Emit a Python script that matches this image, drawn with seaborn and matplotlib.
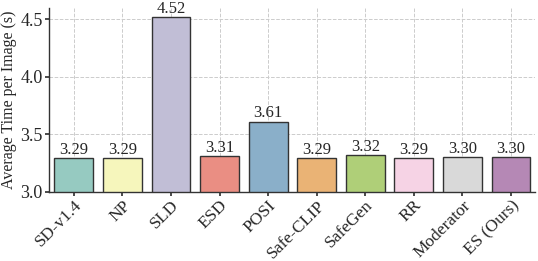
import matplotlib.pyplot as plt
import numpy as np
import pandas as pd
import seaborn as sns

methods = ["SD-v1.4", "NP", "SLD", "ESD", "POSI", "Safe-CLIP", "SafeGen",
           "RR", "Moderator", "ES (Ours)"]
times = [3.29, 3.29, 4.52, 3.31, 3.61, 3.29, 3.32, 3.29, 3.30, 3.30]

sns.set_theme(style="whitegrid")
plt.rcParams["font.family"] = ["Liberation Serif", "DejaVu Serif"]

df = pd.DataFrame({"method": methods, "time": times})

fig, ax = plt.subplots(figsize=(5.38, 2.61), dpi=100)
sns.barplot(data=df, x="method", y="time", hue="method", palette="Set3",
            legend=False, edgecolor="#333333", linewidth=1.0, ax=ax)

for i, v in enumerate(times):
    ax.text(i, v + 0.003, f"{v:.2f}", ha="center", va="bottom", fontsize=12)

ax.set_ylim(3.0, 4.6)
ax.set_yticks([3.0, 3.5, 4.0, 4.5])
ax.set_xlabel("")
ax.set_ylabel("Average Time per Image (s)", fontsize=11.5, labelpad=2)
ax.tick_params(axis="y", labelsize=13, length=3, left=True, color="#333333", pad=2)
ax.tick_params(axis="x", labelsize=12.5, length=3, bottom=True, color="#333333",
               rotation=45, pad=1)
for lbl in ax.get_xticklabels():
    lbl.set_ha("right")
    lbl.set_rotation_mode("anchor")
ax.grid(True, linestyle="--", color="#cccccc", linewidth=0.7)
ax.set_axisbelow(True)
ax.spines[["top", "right"]].set_visible(False)
for s in ["left", "bottom"]:
    ax.spines[s].set_color("#333333")
    ax.spines[s].set_linewidth(1.0)

fig.subplots_adjust(left=0.092, right=0.995, top=0.97, bottom=0.265)
fig.savefig("out.png", dpi=100)
